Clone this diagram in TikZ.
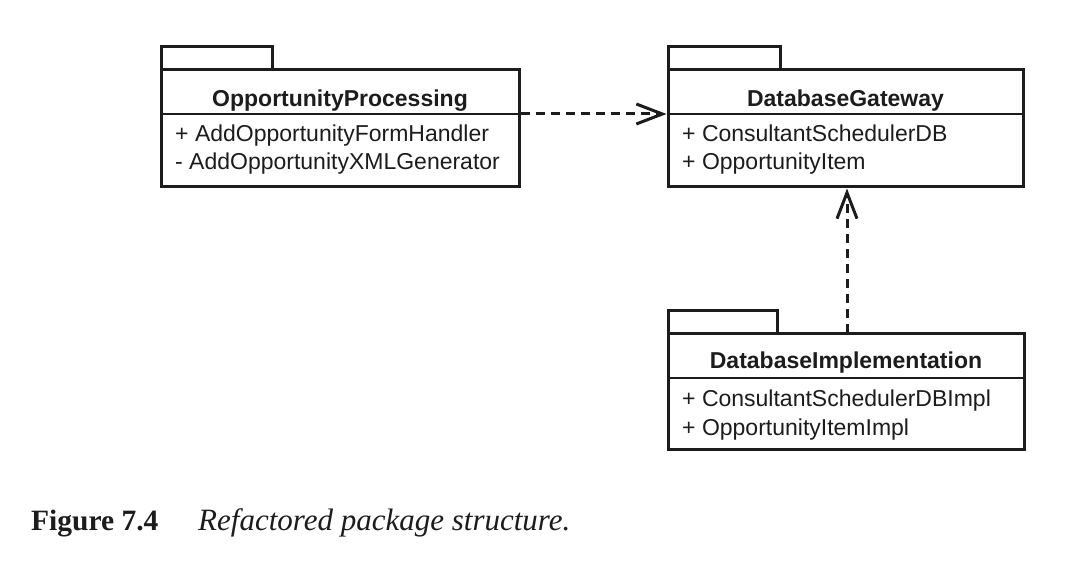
\documentclass[tikz,border=0pt]{standalone}
\usepackage{fontspec}
\setmainfont{Liberation Serif}
\newfontfamily\umlsans{Liberation Sans}
\usetikzlibrary{arrows.meta}
\definecolor{ink}{HTML}{1C1C1C}
\tikzset{
  pkgbody/.style={draw=ink, line width=3pt, inner sep=0pt, fill=white},
  pkgtab/.style={draw=ink, line width=3pt},
  divider/.style={draw=ink, line width=1.6pt},
  pkgtitle/.style={anchor=base, inner sep=0pt, text=ink, font=\umlsans\fontsize{23}{27}\selectfont\bfseries},
  pkgitem/.style={anchor=base west, inner sep=0pt, text=ink, font=\umlsans\fontsize{23}{27}\selectfont},
  depend/.style={draw=ink, line width=3pt, dash pattern=on 9pt off 6pt,
    -{Straight Barb[length=26pt,width=20pt,line width=3pt]}},
  caplabel/.style={anchor=base west, inner sep=0pt, text=ink}
}
\begin{document}
\begin{tikzpicture}[x=1pt,y=-1pt]
\useasboundingbox (0,0) rectangle (1076,564);
% Package 1
\draw[pkgtab] (161,70) |- (272,47) -- (272,70);
\node[pkgbody, minimum width=358pt, minimum height=117pt] (op) at (340,128.5) {};
\coordinate (opdiv) at (161,114);
\draw[divider] (opdiv) -- (op.east |- opdiv);
\node[pkgtitle] (optitle) at (340,107) {OpportunityProcessing};
\node[pkgitem] (opi1) at (175,142) {+ AddOpportunityFormHandler};
\node[pkgitem] (opi2) at (175,169.5) {- AddOpportunityXMLGenerator};
% Package 2
\draw[pkgtab] (668,70) |- (780,47) -- (780,70);
\node[pkgbody, minimum width=355pt, minimum height=117pt] (db) at (845.5,128.5) {};
\coordinate (dbdiv) at (668,114);
\draw[divider] (dbdiv) -- (db.east |- dbdiv);
\node[pkgtitle] (dbtitle) at (845.5,107) {DatabaseGateway};
\node[pkgitem] (dbi1) at (682,142) {+ ConsultantSchedulerDB};
\node[pkgitem] (dbi2) at (682,169.5) {+ OpportunityItem};
% Package 3
\draw[pkgtab] (668,333) |- (777,310) -- (777,333);
\node[pkgbody, minimum width=356pt, minimum height=116pt] (im) at (846,391) {};
\coordinate (imdiv) at (668,378);
\draw[divider] (imdiv) -- (im.east |- imdiv);
\node[pkgtitle] (imtitle) at (846,368) {DatabaseImplementation};
\node[pkgitem] (imi1) at (682,406.5) {+ ConsultantSchedulerDBImpl};
\node[pkgitem] (imi2) at (682,435) {+ OpportunityItemImpl};
% Dependencies
\coordinate (a1s) at (op.east |- opdiv);
\coordinate (a1e) at (db.west |- opdiv);
\draw[depend] (a1s) -- (a1e);
\coordinate (a2s) at (847,333);
\draw[depend] (a2s) -- (a2s |- db.south);
% Caption
\node[caplabel, font=\fontsize{29.5}{33}\selectfont\bfseries] (figlabel) at (31,530) {Figure 7.4};
\node[caplabel, font=\fontsize{31}{35}\selectfont\itshape] (figtext) at (198,530) {Refactored package structure.};
\end{tikzpicture}
\end{document}
